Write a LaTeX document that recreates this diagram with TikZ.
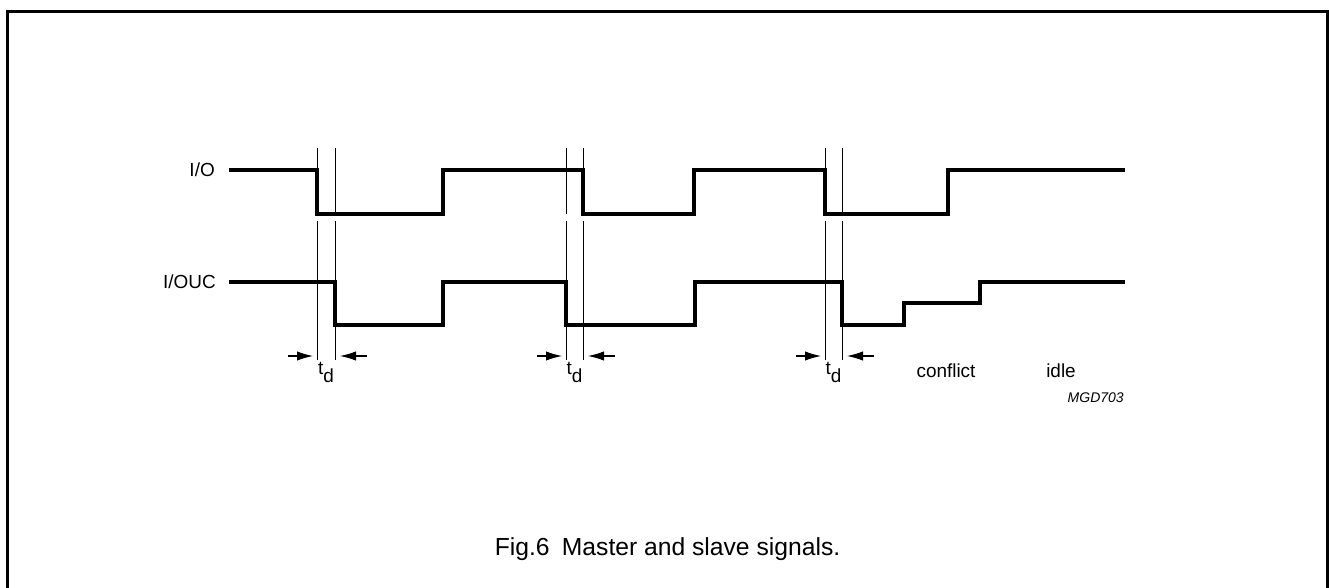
\documentclass[tikz,border=0pt]{standalone}
\usepackage{fontspec}
\setmainfont{Liberation Sans}
\usetikzlibrary{arrows.meta}
\tikzset{
  sig/.style={line width=2.3pt, line join=miter, line cap=butt},
  guide/.style={line width=0.6pt},
  dimarrow/.style={line width=0.8pt, -{Latex[length=12pt,width=7pt]}},
  lbl/.style={font=\fontsize{14.2pt}{16pt}\selectfont, inner sep=0pt},
  frame/.style={line width=1.8pt}
}
\begin{document}
\begin{tikzpicture}[x=0.75pt,y=-0.75pt]
\useasboundingbox (0,0) rectangle (1329,587);
\draw[frame] (7.5,11.5) rectangle (1327.5,600);

% labels
\node[lbl, anchor=east] (lio) at (215,170) {I/O};
\node[lbl, anchor=east] (liouc) at (216,282) {I/OUC};

% I/O signal
\draw[sig] (229,170) -- (317,170) -- (317,214) -- (443,214) -- (443,170)
  -- (583,170) -- (583,214) -- (694,214) -- (694,170)
  -- (825,170) -- (825,214) -- (948,214) -- (948,170) -- (1125,170);

% I/OUC signal
\draw[sig] (229,282) -- (335,282) -- (335,325) -- (443,325) -- (443,282)
  -- (566,282) -- (566,325) -- (695,325) -- (695,282)
  -- (842,282) -- (842,325) -- (904,325) -- (904,303) -- (980,303)
  -- (980,282) -- (1125,282);

% guide lines
\foreach \gx/\n in {317/a1,335/a2,566/b1,583/b2,825/c1,842/c2}{
  \coordinate (\n top) at (\gx,148);
  \coordinate (\n mid) at (\gx,214);
  \coordinate (\n low) at (\gx,221);
  \coordinate (\n bot) at (\gx,360);
  \draw[guide] (\n top) -- (\n mid);
  \draw[guide] (\n low) -- (\n bot);
}

% t_d arrows
\foreach \lx/\rx/\n in {317/335/a,566/583/b,825/842/c}{
  \coordinate (\n la) at (\lx-29,356);
  \coordinate (\n lb) at (\lx-4,356);
  \coordinate (\n ra) at (\rx+32,356);
  \coordinate (\n rb) at (\rx+5,356);
  \draw[dimarrow] (\n la) -- (\n lb);
  \draw[dimarrow] (\n ra) -- (\n rb);
  \node[lbl] (\n td) at ({(\lx+\rx)/2},372) {t\raisebox{-0.42em}{d}};
}

\node[lbl, anchor=base] (conf) at (946,377) {conflict};
\node[lbl, anchor=base] (idle) at (1061,377) {idle};
\node[font=\fontsize{10.5pt}{12pt}\selectfont\itshape, inner sep=0pt, anchor=east] (code) at (1124,398) {MGD703};

\node[font=\fontsize{18.5pt}{22pt}\selectfont, inner sep=0pt, anchor=base] (cap) at (667.5,555) {Fig.6\hspace{0.5em}Master and slave signals.};
\end{tikzpicture}
\end{document}
